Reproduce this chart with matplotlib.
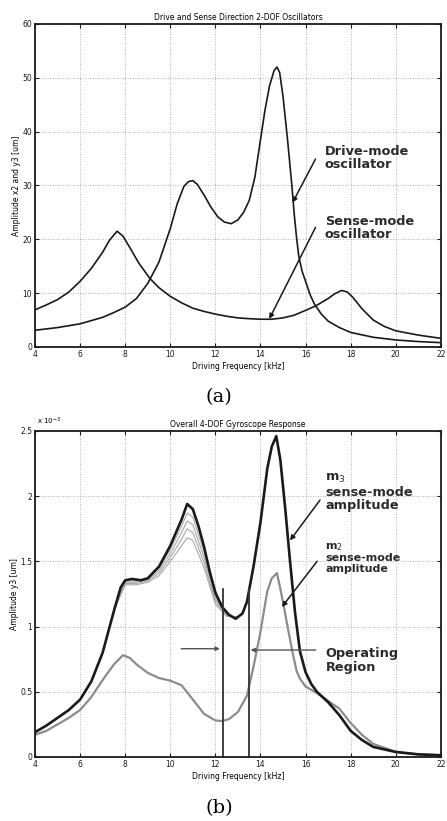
import matplotlib
matplotlib.use("Agg")
import matplotlib.pyplot as plt
from matplotlib.ticker import FormatStrFormatter

# ---- panel (a): 2-DOF drive / sense oscillators ----
DRIVE_F = [4, 5, 6, 7, 7.5, 8, 8.5, 9, 9.5, 10, 10.3, 10.6, 10.8, 11.0, 11.2, 11.5,
           11.8, 12.1, 12.4, 12.7, 13.0, 13.25, 13.5, 13.75, 14.0, 14.2, 14.4, 14.6,
           14.73, 14.85, 15.0, 15.2, 15.4, 15.5, 15.6, 15.7, 15.85, 16.0, 16.2, 16.4,
           16.7, 17.0, 17.5, 18.0, 19.0, 20.0, 21.0, 22.0]
DRIVE_A = [3.1, 3.6, 4.3, 5.5, 6.4, 7.4, 9.0, 11.8, 15.8, 22.0, 26.5, 29.8, 30.7, 30.9,
           30.2, 28.2, 26.0, 24.2, 23.2, 22.9, 23.6, 25.0, 27.2, 31.5, 38.5, 44.0, 48.5,
           51.3, 52.0, 51.0, 46.5, 38.5, 29.6, 24.5, 20.3, 16.8, 14.0, 12.2, 9.7, 7.9,
           6.1, 4.8, 3.6, 2.7, 1.8, 1.3, 1.0, 0.8]

SENSE_F = [4, 4.5, 5, 5.5, 6, 6.5, 7, 7.3, 7.64, 7.9, 8.2, 8.6, 9.1, 9.5, 10, 10.5, 11,
           11.5, 12, 12.5, 13, 13.5, 14, 14.5, 15, 15.5, 16, 16.44, 17, 17.3, 17.6,
           17.85, 18.1, 18.5, 19, 19.5, 20, 21, 22]
SENSE_A = [6.9, 7.8, 8.8, 10.2, 12.2, 14.6, 17.6, 19.8, 21.5, 20.6, 18.5, 15.6, 12.7,
           11.0, 9.4, 8.2, 7.2, 6.6, 6.1, 5.7, 5.4, 5.25, 5.15, 5.15, 5.4, 5.9, 6.8, 7.6,
           9.0, 9.9, 10.5, 10.2, 9.2, 7.1, 5.0, 3.8, 3.0, 2.2, 1.6]

# ---- panel (b): 4-DOF gyroscope response (units of 1e-3 um) ----
M3_F = [4, 4.5, 5, 5.5, 6, 6.5, 7, 7.5, 7.8, 8.0, 8.3, 8.7, 9.0, 9.5, 10.0, 10.5, 10.75,
        11.0, 11.25, 11.5, 11.75, 12.0, 12.3, 12.6, 12.9, 13.2, 13.4, 13.7, 14.0, 14.3,
        14.5, 14.7, 14.88, 15.1, 15.3, 15.53, 15.75, 16.0, 16.25, 16.5, 17.0, 17.5,
        18.0, 18.5, 19.0, 20.0, 21.0, 22.0]
M3_A = [0.19, 0.24, 0.30, 0.36, 0.44, 0.58, 0.80, 1.12, 1.30, 1.355, 1.365, 1.355, 1.37,
        1.46, 1.62, 1.82, 1.94, 1.90, 1.77, 1.61, 1.42, 1.26, 1.15, 1.09, 1.06, 1.10,
        1.19, 1.47, 1.80, 2.21, 2.38, 2.46, 2.28, 1.90, 1.52, 1.11, 0.81, 0.65, 0.56,
        0.50, 0.42, 0.32, 0.20, 0.13, 0.077, 0.038, 0.02, 0.013]

M2_F = [4, 4.5, 5, 5.5, 6, 6.5, 7, 7.5, 7.9, 8.2, 8.5, 9, 9.5, 10, 10.5, 11, 11.5, 12,
        12.3, 12.6, 13.0, 13.4, 13.7, 14.0, 14.3, 14.5, 14.73, 14.88, 15.03, 15.2, 15.4,
        15.6, 15.75, 16.0, 16.5, 17.0, 17.5, 18.0, 18.5, 19.0, 20.0, 21.0, 22.0]
M2_A = [0.17, 0.20, 0.25, 0.30, 0.36, 0.46, 0.59, 0.71, 0.78, 0.76, 0.71, 0.645, 0.605,
        0.585, 0.55, 0.44, 0.33, 0.28, 0.275, 0.29, 0.345, 0.47, 0.70, 0.96, 1.27, 1.37,
        1.41, 1.29, 1.16, 1.00, 0.82, 0.66, 0.60, 0.54, 0.49, 0.43, 0.37, 0.26, 0.17,
        0.10, 0.04, 0.02, 0.013]

# lighter family of m3 curves under the 10.75 kHz hump
BUNDLE_F = [7.5, 8, 8.5, 9, 9.5, 10, 10.5, 10.75, 11, 11.5, 12, 12.5, 13]
BUNDLE_A = [
    [1.15, 1.35, 1.35, 1.37, 1.45, 1.59, 1.77, 1.87, 1.84, 1.57, 1.23, 1.09, 1.07],
    [1.14, 1.34, 1.34, 1.36, 1.43, 1.56, 1.72, 1.81, 1.78, 1.53, 1.21, 1.09, 1.07],
    [1.13, 1.33, 1.33, 1.35, 1.41, 1.53, 1.67, 1.75, 1.72, 1.49, 1.19, 1.08, 1.07],
    [1.12, 1.32, 1.32, 1.34, 1.39, 1.50, 1.62, 1.68, 1.66, 1.45, 1.17, 1.08, 1.07],
]

OP_REGION = [12.35, 13.5]
OP_TOP = 1.29

XTICKS = [4, 6, 8, 10, 12, 14, 16, 18, 20, 22]

INK = "#1a1a1a"
NOTE = "#2a2a2a"


def style_axes(ax):
    ax.set_xlim(4, 22)
    ax.set_xticks(XTICKS)
    ax.grid(True, ls=(0, (1, 2)), color="#9a9a9a", lw=0.6)
    ax.tick_params(direction="in", top=True, right=True, labelsize=5.5,
                   length=3, width=0.8, pad=2, colors=INK)
    for s in ax.spines.values():
        s.set_linewidth(1.3)
        s.set_color(INK)
    ax.set_xlabel("Driving Frequency [kHz]", fontsize=5.5, labelpad=2)


fig = plt.figure(figsize=(4.47, 8.21), dpi=100)
ax1 = fig.add_axes([0.0783, 0.5774, 0.908, 0.3934])
ax2 = fig.add_axes([0.0783, 0.0780, 0.908, 0.3971])

# (a)
ax1.plot(DRIVE_F, DRIVE_A, color=INK, lw=1.2)
ax1.plot(SENSE_F, SENSE_A, color=INK, lw=1.2)
style_axes(ax1)
ax1.set_ylim(0, 60)
ax1.set_yticks(range(0, 61, 10))
ax1.set_title("Drive and Sense Direction 2-DOF Oscillators", fontsize=5.5, pad=3)
ax1.set_ylabel("Amplitude x2 and y3 [um]", fontsize=5.5, labelpad=1)

note = dict(fontsize=9.3, fontweight="bold", color=NOTE, ha="left", va="center",
            linespacing=1.05)
arr = dict(arrowstyle="-|>", color=INK, lw=1.1, mutation_scale=7, shrinkA=0, shrinkB=0)
ax1.text(16.86, 35.1, "Drive-mode\noscillator", **note)
ax1.annotate("", xy=(15.42, 26.8), xytext=(16.44, 34.9), arrowprops=arr)
ax1.text(16.86, 22.1, "Sense-mode\noscillator", **note)
ax1.annotate("", xy=(14.39, 5.2), xytext=(16.44, 22.2), arrowprops=arr)
fig.text(0.49, 0.516, "(a)", fontsize=14, family="DejaVu Serif", ha="center", va="center")

# (b)
for b in BUNDLE_A:
    ax2.plot(BUNDLE_F, b, color="#a8a8a8", lw=0.8)
ax2.plot(M2_F, M2_A, color="#8c8c8c", lw=1.6)
ax2.plot(M3_F, M3_A, color=INK, lw=1.9)
for x in OP_REGION:
    ax2.plot([x, x], [0, OP_TOP], color="#333333", lw=1.3)
style_axes(ax2)
ax2.set_ylim(0, 2.5)
ax2.set_yticks([0, 0.5, 1, 1.5, 2, 2.5])
ax2.yaxis.set_major_formatter(FormatStrFormatter("%g"))
ax2.set_title("Overall 4-DOF Gyroscope Response", fontsize=5.5, pad=3)
ax2.set_ylabel("Amplitude y3 [um]", fontsize=5.5, labelpad=1)
ax2.text(4.1, 2.53, r"x 10$^{-3}$", fontsize=5, va="bottom", ha="left")

arr2 = dict(arrowstyle="-|>", color="#555555", lw=1.0, mutation_scale=6,
            shrinkA=0, shrinkB=0)
ax2.annotate("", xy=(12.2, 0.83), xytext=(10.48, 0.83), arrowprops=arr2)
ax2.annotate("", xy=(13.56, 0.82), xytext=(16.45, 0.82), arrowprops=arr2)
ax2.text(16.88, 0.74, "Operating\nRegion", **note)

ax2.text(16.88, 2.03, "m$_3$\nsense-mode\namplitude", **note)
ax2.annotate("", xy=(15.31, 1.66), xytext=(16.64, 1.97), arrowprops=arr)
note_s = dict(note, fontsize=8)
ax2.text(16.88, 1.53, "m$_2$\nsense-mode\namplitude", **note_s)
ax2.annotate("", xy=(14.95, 1.15), xytext=(16.51, 1.50), arrowprops=arr)
fig.text(0.49, 0.016, "(b)", fontsize=14, family="DejaVu Serif", ha="center", va="center")

fig.savefig("out.png", dpi=100)
